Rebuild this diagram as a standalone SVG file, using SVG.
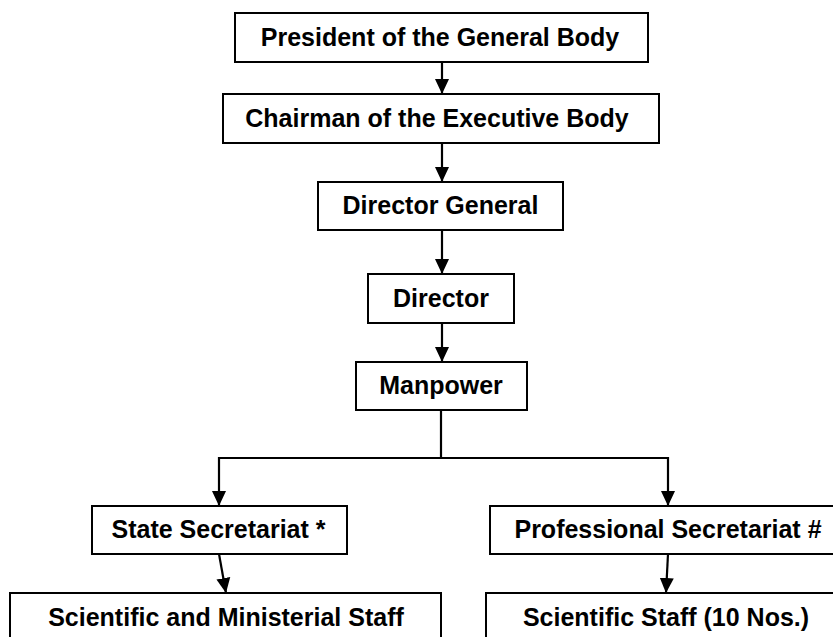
<svg xmlns="http://www.w3.org/2000/svg" width="833" height="637" viewBox="0 0 833 637">
<style>
.box{fill:#fff;stroke:#000;stroke-width:2}
.lbl{font-family:"Liberation Sans",Arial,sans-serif;font-weight:bold;font-size:25px;fill:#000;text-anchor:middle}
.conn{fill:none;stroke:#000;stroke-width:2.2}
</style>
<defs>
<marker id="ah" markerUnits="userSpaceOnUse" markerWidth="16" markerHeight="16" viewBox="0 0 16 16" refX="15" refY="8" orient="auto">
<path d="M0,1 L15,8 L0,15 Z" fill="#000"/>
</marker>
</defs>
<rect width="833" height="637" fill="#fff"/>
<g id="connectors">
<line class="conn" x1="442" y1="62" x2="442" y2="94" marker-end="url(#ah)"/>
<line class="conn" x1="442" y1="143" x2="442" y2="182" marker-end="url(#ah)"/>
<line class="conn" x1="442" y1="230" x2="442" y2="274" marker-end="url(#ah)"/>
<line class="conn" x1="442" y1="323" x2="442" y2="362" marker-end="url(#ah)"/>
<polyline class="conn" points="441,410 441,458 219,458 219,506" marker-end="url(#ah)"/>
<polyline class="conn" points="441,458 668,458 668,506" marker-end="url(#ah)"/>
<line class="conn" x1="219" y1="554" x2="226" y2="593" marker-end="url(#ah)"/>
<line class="conn" x1="668" y1="554" x2="666" y2="593" marker-end="url(#ah)"/>
</g>
<g id="president">
<rect class="box" x="235" y="13" width="413" height="49"/>
<text class="lbl" x="440" y="46">President of the General Body</text>
</g>
<g id="chairman">
<rect class="box" x="223" y="94" width="436" height="49"/>
<text class="lbl" x="437" y="127">Chairman of the Executive Body</text>
</g>
<g id="director-general">
<rect class="box" x="318" y="182" width="245" height="48"/>
<text class="lbl" x="440.5" y="214">Director General</text>
</g>
<g id="director">
<rect class="box" x="368" y="274" width="146" height="49"/>
<text class="lbl" x="441" y="307">Director</text>
</g>
<g id="manpower">
<rect class="box" x="356" y="362" width="171" height="48"/>
<text class="lbl" x="441" y="394">Manpower</text>
</g>
<g id="state-secretariat">
<rect class="box" x="92" y="506" width="255" height="48"/>
<text class="lbl" x="218.5" y="538">State Secretariat *</text>
</g>
<g id="professional-secretariat">
<rect class="box" x="490" y="506" width="360" height="48"/>
<text class="lbl" x="668" y="538">Professional Secretariat #</text>
</g>
<g id="scientific-ministerial">
<rect class="box" x="10" y="593" width="431" height="60"/>
<text class="lbl" x="226" y="626">Scientific and Ministerial Staff</text>
</g>
<g id="scientific-staff">
<rect class="box" x="486" y="593" width="364" height="60"/>
<text class="lbl" x="666" y="626">Scientific Staff (10 Nos.)</text>
</g>
</svg>
